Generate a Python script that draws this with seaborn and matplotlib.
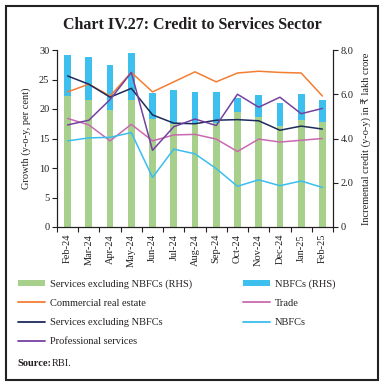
import numpy as np
import pandas as pd
import matplotlib
matplotlib.use("Agg")
import matplotlib.pyplot as plt
import seaborn as sns
from matplotlib.patches import Rectangle, Patch
from matplotlib.lines import Line2D

months = ["Feb-24", "Mar-24", "Apr-24", "May-24", "Jun-24", "Jul-24", "Aug-24",
          "Sep-24", "Oct-24", "Nov-24", "Dec-24", "Jan-25", "Feb-25"]

# RHS: incremental credit (₹ lakh crore)
services_ex_nbfc_rhs = [5.90, 5.73, 5.28, 5.73, 4.86, 4.65, 4.70, 4.70, 5.20, 4.98, 4.57, 4.83, 4.75]
nbfc_rhs = [1.87, 1.97, 2.05, 2.14, 1.19, 1.55, 1.42, 1.42, 0.62, 0.99, 1.05, 1.17, 1.00]

# LHS: growth (y-o-y, per cent)
commercial_real_estate = [22.9, 24.2, 22.2, 26.2, 22.9, 24.6, 26.3, 24.6, 26.1, 26.4, 26.2, 26.1, 22.2]
trade = [18.4, 17.3, 14.6, 17.4, 14.6, 15.6, 15.7, 14.9, 12.8, 14.9, 14.4, 14.7, 15.0]
services_ex_nbfc = [25.6, 24.2, 22.0, 23.5, 19.0, 17.6, 17.5, 18.1, 18.2, 18.0, 16.4, 17.1, 16.6]
nbfcs = [14.6, 15.1, 15.2, 16.0, 8.4, 13.2, 12.4, 9.9, 6.9, 8.0, 7.0, 7.8, 6.7]
professional_services = [17.3, 18.1, 21.6, 26.2, 13.0, 17.0, 18.3, 17.2, 22.5, 20.3, 22.0, 19.2, 20.1]

line_names = ["Commercial real estate", "Trade", "Services excluding NBFCs",
              "NBFCs", "Professional services"]
line_values = [commercial_real_estate, trade, services_ex_nbfc, nbfcs, professional_services]
line_colors = {"Commercial real estate": "#F47D32",
               "Trade": "#C96AB0",
               "Services excluding NBFCs": "#1D2B5B",
               "NBFCs": "#3ABEEF",
               "Professional services": "#7441A0"}
green = "#A8D08D"
blue = "#3DC0EE"
txt = "#231F20"

sns.set_style("ticks")
plt.rcParams["font.family"] = ["Liberation Serif", "DejaVu Sans"]
plt.rcParams["text.color"] = txt
plt.rcParams["axes.labelcolor"] = txt
plt.rcParams["xtick.color"] = txt
plt.rcParams["ytick.color"] = txt
plt.rcParams["axes.edgecolor"] = txt

bars = pd.DataFrame({"month": months,
                     "green": services_ex_nbfc_rhs,
                     "total": np.array(services_ex_nbfc_rhs) + np.array(nbfc_rhs)})
lines = pd.DataFrame({"month": np.tile(months, len(line_names)),
                      "series": np.repeat(line_names, len(months)),
                      "value": np.concatenate(line_values)})

fig = plt.figure(figsize=(3.85, 3.88), dpi=100)
ax = fig.add_axes([57/385, 1-227/388, (333-57)/385, (227-50)/388])

# bars (RHS scale) on main axes
sns.barplot(data=bars, x="month", y="total", order=months, color=blue,
            width=0.32, saturation=1, ax=ax, edgecolor="none")
sns.barplot(data=bars, x="month", y="green", order=months, color=green,
            width=0.32, saturation=1, ax=ax, edgecolor="none")
ax.set_ylim(0, 8)
ax.set_xlim(-0.5, len(months) - 0.5)

ax2 = ax.twinx()
sns.lineplot(data=lines, x="month", y="value", hue="series", palette=line_colors,
             sort=False, linewidth=1.1, ax=ax2, legend=False, errorbar=None)
ax2.set_ylim(0, 30)
ax2.set_xlim(-0.5, len(months) - 0.5)

# swap sides: growth on left, credit on right
ax.yaxis.tick_right()
ax.yaxis.set_label_position("right")
ax2.yaxis.tick_left()
ax2.yaxis.set_label_position("left")

ax.set_yticks([0, 2, 4, 6, 8])
ax.set_yticklabels(["0", "2.0", "4.0", "6.0", "8.0"])
ax2.set_yticks([0, 5, 10, 15, 20, 25, 30])

ax.set_xticks(range(len(months)))
ax.set_xticklabels(months, rotation=90, fontsize=7.5)
ax.set_xticks(np.arange(-0.5, len(months), 1), minor=True)
ax.tick_params(axis="x", which="major", length=0, pad=5)
ax.tick_params(axis="x", which="minor", length=3.5, width=0.8, direction="out")
ax.tick_params(axis="y", labelsize=7.5, length=3.5, width=0.8, pad=2)
ax2.tick_params(axis="y", labelsize=7.5, length=3.5, width=0.8, pad=2)

ax.set_xlabel("")
ax.set_ylabel("Incremental credit (y-o-y) in ₹ lakh crore", fontsize=7.5, labelpad=6)
ax2.set_ylabel("Growth (y-o-y, per cent)", fontsize=7.5, labelpad=6)

for a in (ax, ax2):
    a.spines["top"].set_visible(False)
    for s in ("left", "right", "bottom"):
        a.spines[s].set_linewidth(0.8)
        a.spines[s].set_visible(True)

# title
fig.text(0.5, 1-25/388, "Chart IV.27: Credit to Services Sector", ha="center",
         va="center", fontsize=11.5, fontweight="bold")

# legends
col1 = [Patch(facecolor=green, edgecolor="none"),
        Line2D([], [], color=line_colors["Commercial real estate"], lw=1.3),
        Line2D([], [], color=line_colors["Services excluding NBFCs"], lw=1.3),
        Line2D([], [], color=line_colors["Professional services"], lw=1.3)]
lab1 = ["Services excluding NBFCs (RHS)", "Commercial real estate",
        "Services excluding NBFCs", "Professional services"]
col2 = [Patch(facecolor=blue, edgecolor="none"),
        Line2D([], [], color=line_colors["Trade"], lw=1.3),
        Line2D([], [], color=line_colors["NBFCs"], lw=1.3)]
lab2 = ["NBFCs (RHS)", "Trade", "NBFCs"]
common = dict(loc="upper left", frameon=False, fontsize=7.5, handlelength=2.6,
              handletextpad=0.45, labelspacing=0.98, borderpad=0, borderaxespad=0,
              handleheight=0.55)
fig.legend(col1, lab1, bbox_to_anchor=(18/385, 1-279/388), **common)
fig.legend(col2, lab2, bbox_to_anchor=(243/385, 1-279/388), **common)

fig.text(17/385, 1-363/388, "Source:", fontsize=7.5, fontweight="bold", va="center")
fig.text(52/385, 1-363/388, "RBI.", fontsize=7.5, va="center")

# outer frame
fig.patches.append(Rectangle((6/385, 1-380/388), (378-6)/385, (380-6)/388,
                             transform=fig.transFigure, fill=False,
                             edgecolor="#222222", linewidth=1.5))

fig.savefig("out.png", dpi=100)
